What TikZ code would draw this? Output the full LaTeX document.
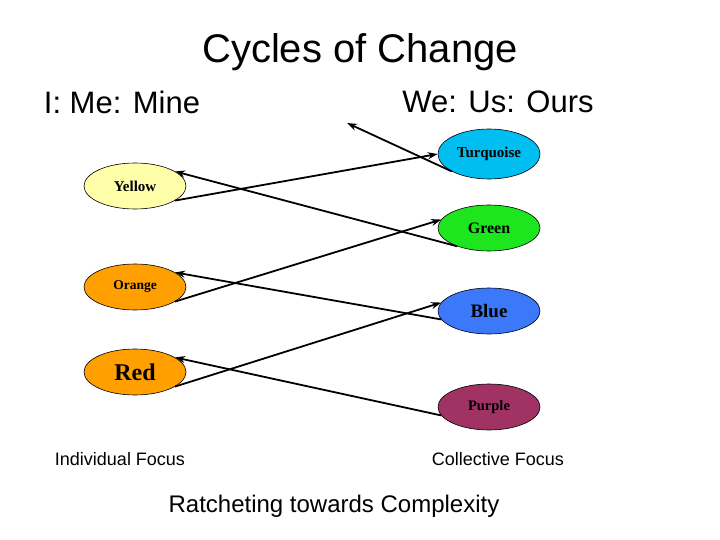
\documentclass[tikz,border=0pt]{standalone}
\usepackage{fontspec}
\setmainfont{Liberation Sans}
\newfontfamily\lblfont{Liberation Serif}
\usetikzlibrary{arrows.meta,shapes.geometric}
\begin{document}
\begin{tikzpicture}[x=1pt,y=-1pt,
  stage/.style={ellipse,draw=black,line width=0.6pt,minimum width=102pt,minimum height=46pt,inner sep=0pt,font=\lblfont\bfseries\fontsize{15}{15}\selectfont},
  link/.style={line width=1.8pt,-{Stealth[length=10pt,width=7pt]}}]
\useasboundingbox (0,0) rectangle (720,540);
\node[font=\fontsize{40}{44}\selectfont] (title) at (360,52) {Cycles of Change};
\node[font=\fontsize{31}{35}\selectfont] (ind) at (122,102) {I: Me: Mine};
\node[font=\fontsize{31}{35}\selectfont] (col) at (498,102) {We: Us: Ours};
\node[stage,fill={rgb,255:red,255;green,255;blue,170}] (yellow) at (135,186) {Yellow};
\node[stage,fill={rgb,255:red,255;green,160;blue,0},font=\lblfont\bfseries\fontsize{13.5}{13.5}\selectfont] (orange) at (135,287) {Orange};
\node[stage,fill={rgb,255:red,255;green,160;blue,0},font=\lblfont\bfseries\fontsize{24}{24}\selectfont] (red) at (135,372) {Red};
\node[stage,fill={rgb,255:red,0;green,190;blue,240},minimum height=50pt] (turq) at (489,154) {Turquoise};
\node[stage,fill={rgb,255:red,30;green,230;blue,30},font=\lblfont\bfseries\fontsize{16}{16}\selectfont] (green) at (489,228) {Green};
\node[stage,fill={rgb,255:red,60;green,120;blue,250},font=\lblfont\bfseries\fontsize{19}{19}\selectfont] (blue) at (489,311) {Blue};
\node[stage,fill={rgb,255:red,160;green,50;blue,100},font=\lblfont\bfseries\fontsize{14.5}{14.5}\selectfont] (purple) at (489,407) {Purple};
\coordinate (top) at (347,123);
\draw[link] (turq.-155) -- (top);
\draw[link] (yellow.-20) -- (turq.west);
\draw[link] (green.-150) -- (yellow.20);
\draw[link] (orange.-20) -- (green.170);
\draw[link] (blue.-170) -- (orange.20);
\draw[link] (red.-20) -- (blue.170);
\draw[link] (purple.-170) -- (red.20);
\node[font=\fontsize{18}{20}\selectfont] (indf) at (120,459) {Individual Focus};
\node[font=\fontsize{18}{20}\selectfont] (colf) at (498,459) {Collective Focus};
\node[font=\fontsize{24}{28}\selectfont] (ratchet) at (334,506) {Ratcheting towards Complexity};
\end{tikzpicture}
\end{document}
